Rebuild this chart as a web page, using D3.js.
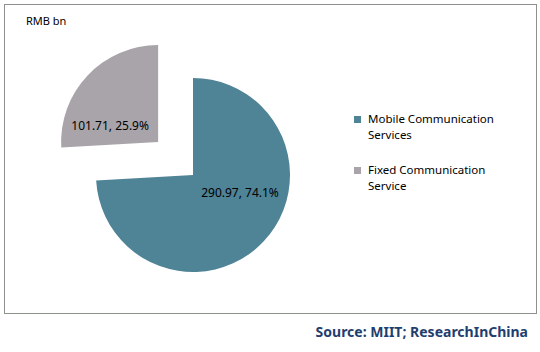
<!DOCTYPE html>
<html><head><meta charset="utf-8">
<script src="https://cdn.jsdelivr.net/npm/d3@7"></script>
<style>body{margin:0;background:#fff}svg{display:block}text{font-family:"Noto Sans",sans-serif}</style>
</head><body>
<svg id="c" width="540" height="352"></svg>
<script>
const categories = ["Mobile Communication Services", "Fixed Communication Service"];
const legendLines = [["Mobile Communication", "Services"], ["Fixed Communication", "Service"]];
const values = [290.97, 101.71];
const percents = ["74.1%", "25.9%"];
const colors = ["#4F8396", "#A8A4A9"];
const exploded = [false, true];

const svg = d3.select("#c");
svg.append("rect").attr("x", 4.5).attr("y", 4.5).attr("width", 532).attr("height", 309)
  .attr("fill", "none").attr("stroke", "#8c918c").attr("stroke-width", 1);

svg.append("text").attr("x", 26).attr("y", 25).attr("font-size", 11).attr("fill", "#000").text("RMB bn");

const cx = 193, cy = 175, r = 97, off = 48;
const pie = d3.pie().sort(null).value(d => d)(values);
const arc = d3.arc().innerRadius(0).outerRadius(r);
const g = svg.append("g").attr("transform", `translate(${cx},${cy})`);
// label offsets relative to each slice's own centre (Excel "best fit")
const labelOffsets = [[47, 18], [-48, -16]];
pie.forEach((p, i) => {
  const mid = (p.startAngle + p.endAngle) / 2;
  const dx = exploded[i] ? Math.sin(mid) * off : 0;
  const dy = exploded[i] ? -Math.cos(mid) * off : 0;
  const sg = g.append("g").attr("transform", `translate(${dx},${dy})`);
  sg.append("path").attr("d", arc(p)).attr("fill", colors[i]);
  sg.append("text").attr("x", labelOffsets[i][0]).attr("y", labelOffsets[i][1]).attr("text-anchor", "middle").attr("dy", "0.35em")
    .attr("font-size", 12).attr("fill", "#000").text(`${values[i].toFixed(2)}, ${percents[i]}`);
});

const lg = svg.append("g");
legendLines.forEach((lines, i) => {
  const y0 = 123 + i * 51;
  lg.append("rect").attr("x", 354).attr("y", y0 - 7).attr("width", 7).attr("height", 7).attr("fill", colors[i]);
  lines.forEach((t, j) => {
    lg.append("text").attr("x", 368).attr("y", y0 + j * 16).attr("font-size", 11.5).attr("fill", "#000").text(t);
  });
});

svg.append("text").attr("x", 528).attr("y", 337).attr("text-anchor", "end").attr("font-size", 14)
  .attr("font-weight", "bold").attr("fill", "#1F3F6F").text("Source: MIIT; ResearchInChina");
</script>
</body></html>
